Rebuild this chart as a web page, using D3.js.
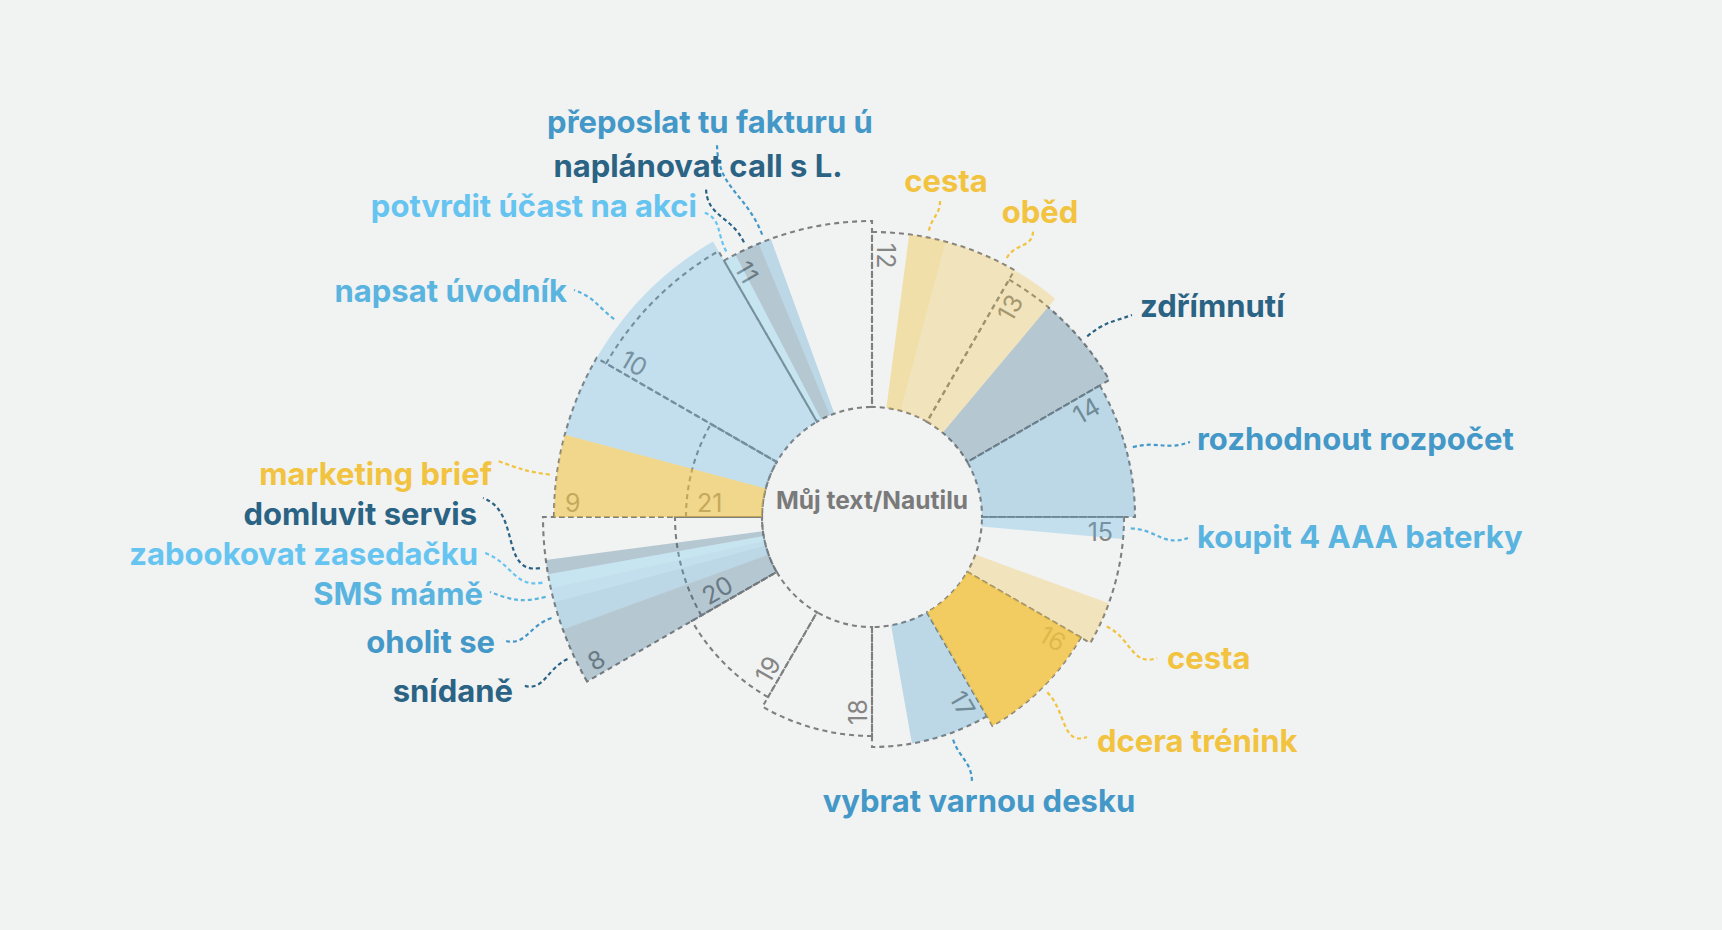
<!DOCTYPE html>
<html><head><meta charset="utf-8">
<script src="https://cdn.jsdelivr.net/npm/d3@7"></script>
<style>html,body{margin:0;background:#f1f2f2;overflow:hidden}</style>
</head><body>
<svg id="c" width="1722" height="930"></svg>
<script>
// ---------- data ----------
const hourTicks = [8, 9, 10, 11, 12, 13, 14, 15, 16, 17, 18, 19, 20, 21];
const taskNames = ["snídaně", "oholit se", "SMS mámě", "zabookovat zasedačku", "domluvit servis",
  "marketing brief", "napsat úvodník", "potvrdit účast na akci", "naplánovat call s L.",
  "přeposlat tu fakturu ú", "cesta", "oběd", "zdřímnutí", "rozhodnout rozpočet",
  "koupit 4 AAA baterky", "cesta", "dcera trénink", "vybrat varnou desku"];
const taskStart = ["8:00", "8:20", "8:30", "8:35", "8:40", "9:00", "9:30", "11:00", "11:05",
  "11:15", "12:15", "12:30", "13:20", "14:00", "15:00", "15:40", "16:00", "17:00"];
const taskEnd = ["8:20", "8:30", "8:35", "8:40", "8:45", "9:30", "11:00", "11:05", "11:15",
  "11:20", "12:30", "13:20", "14:00", "15:00", "15:10", "16:00", "17:00", "17:40"];
const taskGroup = ["navy", "medium", "light", "sky", "navy", "yellow", "light", "sky", "navy",
  "medium", "yellow", "yellow", "navy", "medium", "light", "yellow", "yellow", "medium"];
const taskIntensity = [0.3, 0.3, 0.3, 0.3, 0.3, 0.58, 0.3, 0.3, 0.3,
  0.3, 0.4, 0.3, 0.3, 0.3, 0.3, 0.3, 0.82, 0.3];
const centerTitle = "Můj text/Nautilu";

// ---------- layout (label placement) ----------
// [textX, baselineY, anchor, leaderEndX, leaderEndY]
const labelLayout = [
  [513, 702, "end", 522, 685], [495, 653, "end", 503, 640], [483, 605, "end", 490, 592],
  [478, 565, "end", 485, 553], [477, 525, "end", 483, 498], [492, 485, "end", 498, 461],
  [567, 302, "end", 574, 290], [697, 217, "end", 703, 212], [698, 177, "middle", 706, 187],
  [710, 133, "middle", 717, 143], [946, 192, "middle", 940, 201], [1040, 223, "middle", 1033, 231],
  [1140, 317, "start", 1132, 315], [1197, 450, "start", 1190, 442], [1197, 548, "start", 1188, 538],
  [1167, 669, "start", 1157, 658], [1097, 752, "start", 1087, 737], [979, 812, "middle", 972, 783]
];

const W = 1722, H = 930, cx = 872, cy = 517, innerR = 110;
const palette = {navy: "#2a6384", medium: "#4398c8", light: "#5ab4e0", sky: "#66c4f0", yellow: "#f2c33f"};

const svg = d3.select("#c");
svg.append("rect").attr("width", W).attr("height", H).attr("fill", "#f1f2f2");
const g = svg.append("g").attr("transform", `translate(${cx},${cy})`);

const toH = s => { const [h, m] = s.split(":").map(Number); return h + m / 60; };
const angle = d3.scaleLinear().domain([0, 12]).range([0, 2 * Math.PI]);
const radius = d3.scaleLinear().domain([8, 22]).range([329, 175]);
const arc = d3.arc();
const polar = (a, r) => [r * Math.sin(a), -r * Math.cos(a)];

// ---------- hour grid ----------
const gridG = g.append("g");
hourTicks.forEach(h => {
  const a0 = angle(h % 12);
  gridG.append("path")
    .attr("d", arc({innerRadius: innerR, outerRadius: radius(h), startAngle: a0, endAngle: a0 + angle(1)}))
    .attr("fill", "none").attr("stroke", "#7f7f7f").attr("stroke-width", 2.1)
    .attr("stroke-dasharray", "5 4");
});

// hour labels
const hourG = g.append("g");
hourTicks.forEach(h => {
  let deg = (h % 12) * 30; if (deg === 0) deg = 360;
  const a = deg * Math.PI / 180;
  const [px, py] = polar(a, radius(h) - 11);
  const right = deg > 0 && deg < 180;
  hourG.append("text")
    .attr("transform", `translate(${px},${py}) rotate(${right ? deg - 90 : deg - 270})`)
    .attr("x", 0).attr("y", right ? 24 : -5)
    .attr("text-anchor", right ? "end" : "start")
    .attr("font-family", "Inter, 'Noto Sans', sans-serif").attr("font-size", 25)
    .attr("font-weight", 400).attr("fill", "#858585")
    .text(h);
});

// ---------- bars ----------
const tasks = taskNames.map((n, i) => {
  const s = toH(taskStart[i]), e = toH(taskEnd[i]);
  const a0 = angle(s % 12), a1 = a0 + angle(e - s);
  return {name: n, s, e, a0, a1, R: radius(Math.floor(s)), color: palette[taskGroup[i]],
    op: taskIntensity[i], lay: labelLayout[i]};
});
g.append("g").selectAll("path").data(tasks).join("path")
  .attr("d", d => arc({innerRadius: innerR, outerRadius: d.R, startAngle: d.a0, endAngle: d.a1}))
  .attr("fill", d => d.color).attr("fill-opacity", d => d.op);

// ---------- leaders ----------
const leadG = svg.append("g");
tasks.forEach(d => {
  const am = (d.a0 + d.a1) / 2;
  const [sx0, sy0] = polar(am, d.R + 7);
  const sx = sx0 + cx, sy = sy0 + cy;
  const [tx0, ty0, anchor, tx, ty] = [d.lay[0], d.lay[1], d.lay[2], d.lay[3], d.lay[4]];
  const dist = Math.hypot(tx - sx, ty - sy);
  const k = dist * 0.45;
  const rad = [Math.sin(am), -Math.cos(am)];
  let ap;
  if (anchor === "end") ap = [0.94, 0.34];
  else if (anchor === "start") ap = [-0.94, 0.34];
  else ap = ty > ty0 ? [0, 1] : [0, -1];
  const p = d3.path();
  p.moveTo(sx, sy);
  p.bezierCurveTo(sx + rad[0] * k, sy + rad[1] * k, tx + ap[0] * k, ty + ap[1] * k, tx, ty);
  leadG.append("path").attr("d", p.toString()).attr("fill", "none")
    .attr("stroke", d.color).attr("stroke-width", 2.2).attr("stroke-dasharray", "4 3");
});

// ---------- task labels ----------
svg.append("g").selectAll("text").data(tasks).join("text")
  .attr("x", d => d.lay[0]).attr("y", d => d.lay[1])
  .attr("text-anchor", d => d.lay[2])
  .attr("font-family", "Inter, 'Noto Sans', sans-serif").attr("font-size", 31)
  .attr("font-weight", 700).attr("fill", d => d.color)
  .text(d => d.name);

// ---------- center ----------
g.append("text").attr("x", 0).attr("y", -8).attr("text-anchor", "middle")
  .attr("font-family", "Inter, 'Noto Sans', sans-serif").attr("font-size", 24.5)
  .attr("font-weight", 700).attr("fill", "#7a7a7a").text(centerTitle);
</script>
</body></html>
